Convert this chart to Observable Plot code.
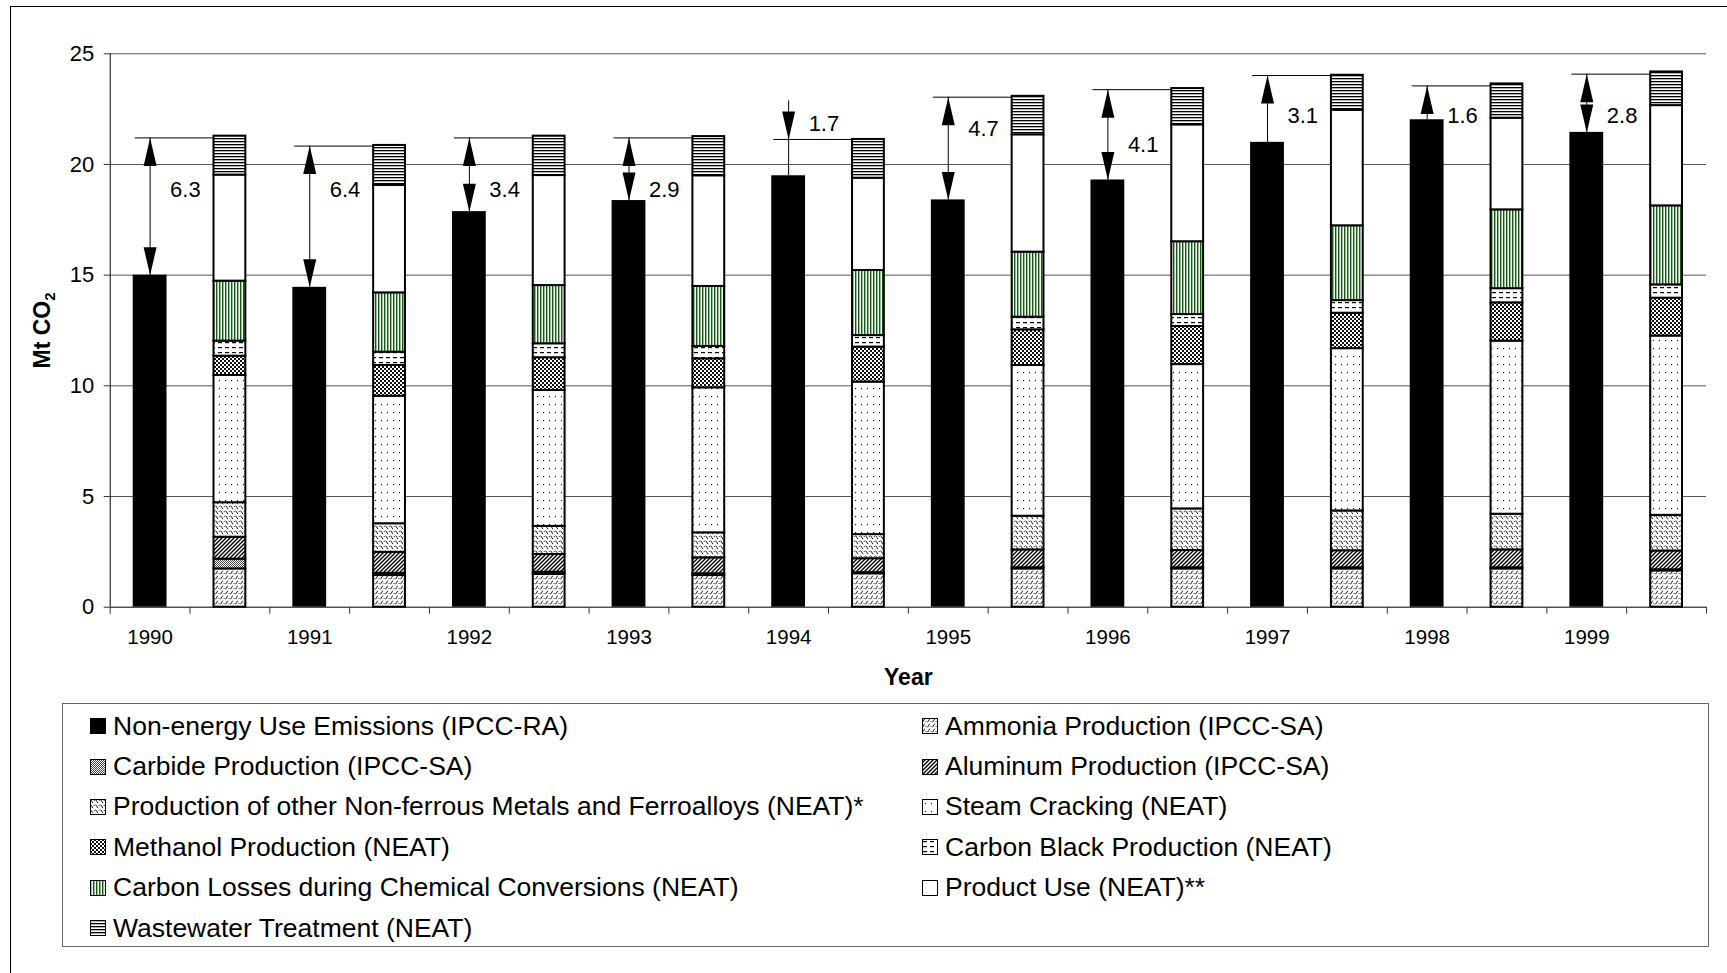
<!DOCTYPE html>
<html>
<head>
<meta charset="utf-8">
<script src="https://cdn.jsdelivr.net/npm/d3@7"></script>
<script src="https://cdn.jsdelivr.net/npm/@observablehq/plot@0.6"></script>
<style>
  html, body { margin: 0; padding: 0; background: #fff; overflow: hidden; }
  body { width: 1727px; height: 973px; position: relative; font-family: "Liberation Sans", Arial, sans-serif; }
  #frame { position: absolute; left: 10px; top: 6px; width: 1800px; height: 1100px; border: 1px solid #000; pointer-events: none; }
  #chart svg { display: block; }
  #legend { margin-left: 62px; width: 1647px; height: 244px; box-sizing: border-box; border: 1.5px solid #666;
            display: grid; grid-template-columns: 832px 1fr; grid-auto-rows: 40.4px; padding: 2px 0 0 27px; }
  .item { display: flex; align-items: center; font-size: 26.5px; color: #000; white-space: nowrap; }
  .item svg { margin-right: 7px; flex: none; }
</style>
</head>
<body>
<div id="chart"></div>
<div id="legend"></div>
<div id="frame"></div>
<script>
// ---------------- data ----------------
const years = [1990, 1991, 1992, 1993, 1994, 1995, 1996, 1997, 1998, 1999];
const nonEnergy = [15.0, 14.45, 17.87, 18.37, 19.49, 18.4, 19.3, 21.0, 22.02, 21.45];

// stacked components, bottom to top
const ammonia      = [1.73, 1.43, 1.48, 1.43, 1.51, 1.73, 1.73, 1.73, 1.73, 1.64];
const carbide      = [0.44, 0.10, 0.10, 0.08, 0.05, 0.05, 0.05, 0.05, 0.05, 0.05];
const aluminum     = [0.99, 0.95, 0.80, 0.72, 0.63, 0.81, 0.78, 0.77, 0.81, 0.85];
const nonFerrous   = [1.56, 1.29, 1.27, 1.13, 1.09, 1.52, 1.88, 1.80, 1.61, 1.61];
const steam        = [5.75, 5.76, 6.14, 6.55, 6.89, 6.81, 6.52, 7.33, 7.82, 8.10];
const methanol     = [0.87, 1.39, 1.48, 1.31, 1.58, 1.61, 1.72, 1.60, 1.73, 1.71];
const carbonBlack  = [0.68, 0.60, 0.63, 0.56, 0.52, 0.57, 0.54, 0.57, 0.64, 0.60];
const carbonLosses = [2.71, 2.68, 2.63, 2.71, 2.94, 2.94, 3.29, 3.38, 3.56, 3.57];
const productUse   = [4.79, 4.85, 4.97, 5.00, 4.17, 5.30, 5.28, 5.22, 4.14, 4.53];
const wastewater   = [1.76, 1.81, 1.78, 1.77, 1.75, 1.74, 1.64, 1.58, 1.55, 1.52];

// difference annotations
const diffLabels = ["6.3", "6.4", "3.4", "2.9", "1.7", "4.7", "4.1", "3.1", "1.6", "2.8"];
const refLevel   = [21.2, 20.83, 21.2, 21.2, 21.13, 23.04, 23.38, 24.02, 23.55, 24.08];
const arrowTop   = [21.2, 20.83, 21.2, 21.2, 22.87, 23.04, 23.38, 24.02, 23.55, 24.08];
const upTip      = [21.2, 20.83, 21.2, 21.2, null, 23.04, 23.38, 24.02, 23.55, 24.08];
const downTip    = [15.0, 14.45, 17.87, 18.37, 21.13, 18.4, 19.3, null, null, 21.45];
const labelY     = [18.87, 18.87, 18.87, 18.87, 21.83, 21.6, 20.9, 22.17, 22.17, 22.17];

const yTicks = [0, 5, 10, 15, 20, 25];

const legendNames = [
  "Non-energy Use Emissions (IPCC-RA)",
  "Ammonia Production (IPCC-SA)",
  "Carbide Production (IPCC-SA)",
  "Aluminum Production (IPCC-SA)",
  "Production of other Non-ferrous Metals and Ferroalloys (NEAT)*",
  "Steam Cracking (NEAT)",
  "Methanol Production (NEAT)",
  "Carbon Black Production (NEAT)",
  "Carbon Losses during Chemical Conversions (NEAT)",
  "Product Use (NEAT)**",
  "Wastewater Treatment (NEAT)"
];
const legendFills = ["#000", "url(#p-ammonia)", "url(#p-carbide)", "url(#p-aluminum)", "url(#p-nonferrous)",
  "url(#p-steam)", "url(#p-methanol)", "url(#p-cblack)", "url(#p-closs)", "#fff", "url(#p-waste)"];

const stackSeries = [ammonia, carbide, aluminum, nonFerrous, steam, methanol, carbonBlack, carbonLosses, productUse, wastewater];

// ---------------- tables ----------------
const stackData = [];
years.forEach((yr, i) => {
  stackSeries.forEach((vals, k) => {
    stackData.push({slot: 2 * i + 1, series: legendNames[k + 1], value: vals[i], fill: legendFills[k + 1]});
  });
});
const blackData = years.map((yr, i) => ({slot: 2 * i, value: nonEnergy[i]}));
const arrows = years.map((yr, i) => ({
  cx: 2 * i + 0.5, from: 2 * i, to: 2 * i + 1, base: nonEnergy[i], top: arrowTop[i],
  level: refLevel[i], up: upTip[i], down: downTip[i], label: diffLabels[i], ly: labelY[i]
}));

const upHead = {draw(ctx) { ctx.moveTo(0, 0); ctx.lineTo(6.5, 28); ctx.lineTo(-6.5, 28); ctx.closePath(); }};
const downHead = {draw(ctx) { ctx.moveTo(0, 0); ctx.lineTo(6.5, -28); ctx.lineTo(-6.5, -28); ctx.closePath(); }};

const svg = Plot.plot({
  width: 1727,
  height: 703,
  marginLeft: 109.7,
  marginRight: 21,
  marginTop: 53.3,
  marginBottom: 96.3,
  style: {fontFamily: "Liberation Sans, Arial, sans-serif", fontSize: "20px", background: "transparent", color: "#000"},
  x: {type: "linear", domain: [0, 20], label: null},
  y: {domain: [0, 25], label: null},
  color: {type: "identity"},
  marks: [
    Plot.ruleY([5, 10, 15, 20, 25], {stroke: "#555", strokeWidth: 1}),
    Plot.rectY(blackData, {x: "slot", interval: 1, y: "value", fill: "#000", insetLeft: 23, insetRight: 23}),
    Plot.rectY(stackData, {x: "slot", interval: 1, y: "value", z: "series", fill: "fill",
      stroke: "#000", strokeWidth: 2, insetLeft: 24, insetRight: 24}),
    Plot.ruleY(arrows, {y: "level", x1: "from", x2: "to", insetLeft: 25, insetRight: -24, stroke: "#000", strokeWidth: 1}),
    Plot.ruleX(arrows, {x: "cx", y1: "base", y2: "top", stroke: "#000", strokeWidth: 1}),
    Plot.dot(arrows.filter(d => d.up != null), {x: "cx", y: "up", symbol: upHead, fill: "#000", stroke: "none"}),
    Plot.dot(arrows.filter(d => d.down != null), {x: "cx", y: "down", symbol: downHead, fill: "#000", stroke: "none"}),
    Plot.text(arrows, {x: "cx", y: "ly", text: "label", dx: 20, textAnchor: "start", fontSize: 22, fill: "#000"}),
    Plot.ruleX([0], {y1: 0, y2: 25, stroke: "#000"}),
    Plot.ruleY([0], {stroke: "#000"}),
    Plot.axisY(yTicks, {tickSize: 6, tickPadding: 10, fontSize: 22, label: null, stroke: "#333"}),
    Plot.axisX(d3.range(21), {tickSize: 7, tickFormat: () => "", label: null, stroke: "#333"}),
    Plot.axisX(years.map((_, i) => 2 * i + 0.5), {tickSize: 0, tickPadding: 22, fontSize: 20.5, label: null,
      tickFormat: d => String(years[Math.round((d - 0.5) / 2)])}),
    Plot.text(["Mt CO2"], {frameAnchor: "left", dx: -68, rotate: -90, textAnchor: "middle", lineAnchor: "middle",
      text: d => d, fontSize: 23, fontWeight: "bold", fill: "#000"}),
    Plot.text(["Year"], {frameAnchor: "bottom", dy: 70, lineAnchor: "middle", text: d => d, fontSize: 23, fontWeight: "bold", fill: "#000"})
  ]
});

// pattern definitions
const NS = "http://www.w3.org/2000/svg";
const defs = document.createElementNS(NS, "defs");
defs.innerHTML = `
<pattern id="p-ammonia" patternUnits="userSpaceOnUse" width="5" height="5">
  <rect width="5" height="5" fill="#fff"/>
  <path d="M0.5,4.3 L2.8,0.7" stroke="#000" stroke-width="0.9" fill="none"/>
  <rect x="3.6" y="3" width="0.9" height="0.9" fill="#000"/>
</pattern>
<pattern id="p-carbide" patternUnits="userSpaceOnUse" width="2" height="2">
  <rect width="2" height="2" fill="#fff"/>
  <rect width="1" height="1" fill="#444"/>
  <rect x="1" y="1" width="1" height="1" fill="#444"/>
</pattern>
<pattern id="p-aluminum" patternUnits="userSpaceOnUse" width="4" height="4">
  <rect width="4" height="4" fill="#fff"/>
  <path d="M-1,1 L1,-1 M0,4 L4,0 M3,5 L5,3" stroke="#000" stroke-width="1.4"/>
</pattern>
<pattern id="p-nonferrous" patternUnits="userSpaceOnUse" width="5" height="5">
  <rect width="5" height="5" fill="#fff"/>
  <path d="M0.6,0.6 L3,4.2" stroke="#000" stroke-width="0.9" fill="none"/>
  <rect x="3.8" y="1" width="0.9" height="0.9" fill="#000"/>
</pattern>
<pattern id="p-steam" patternUnits="userSpaceOnUse" width="6" height="8">
  <rect width="6" height="8" fill="#fff"/>
  <rect x="3" y="4" width="1.1" height="1.1" fill="#000"/>
</pattern>
<pattern id="p-methanol" patternUnits="userSpaceOnUse" width="4" height="4">
  <rect width="4" height="4" fill="#fff"/>
  <rect width="2" height="2" fill="#111"/>
  <rect x="2" y="2" width="2" height="2" fill="#111"/>
</pattern>
<pattern id="p-cblack" patternUnits="userSpaceOnUse" width="7" height="5">
  <rect width="7" height="5" fill="#fff"/>
  <rect x="1" y="2" width="4" height="1.2" fill="#000"/>
</pattern>
<pattern id="p-closs" patternUnits="userSpaceOnUse" width="3" height="3">
  <rect width="3" height="3" fill="#f2f8f2"/>
  <rect width="1.4" height="3" fill="#145a14"/>
</pattern>
<pattern id="p-waste" patternUnits="userSpaceOnUse" width="3" height="3">
  <rect width="3" height="3" fill="#fff"/>
  <rect width="3" height="1.3" fill="#000"/>
</pattern>`;
svg.insertBefore(defs, svg.firstChild);

// subscript in the y-axis title
for (const t of svg.querySelectorAll("text")) {
  if (t.textContent === "Mt CO2") {
    t.textContent = "Mt CO";
    const ts = document.createElementNS(NS, "tspan");
    ts.setAttribute("font-size", "15");
    ts.setAttribute("dy", "5");
    ts.textContent = "2";
    t.appendChild(ts);
  }
}
document.getElementById("chart").appendChild(svg);

// legend
const legend = document.getElementById("legend");
legendNames.forEach((name, i) => {
  const item = document.createElement("div");
  item.className = "item";
  item.innerHTML = `<svg width="16" height="16"><rect x="0.5" y="0.5" width="15" height="15" fill="${legendFills[i]}" stroke="#000" stroke-width="1"/></svg><span>${name}</span>`;
  legend.appendChild(item);
});
</script>
</body>
</html>
